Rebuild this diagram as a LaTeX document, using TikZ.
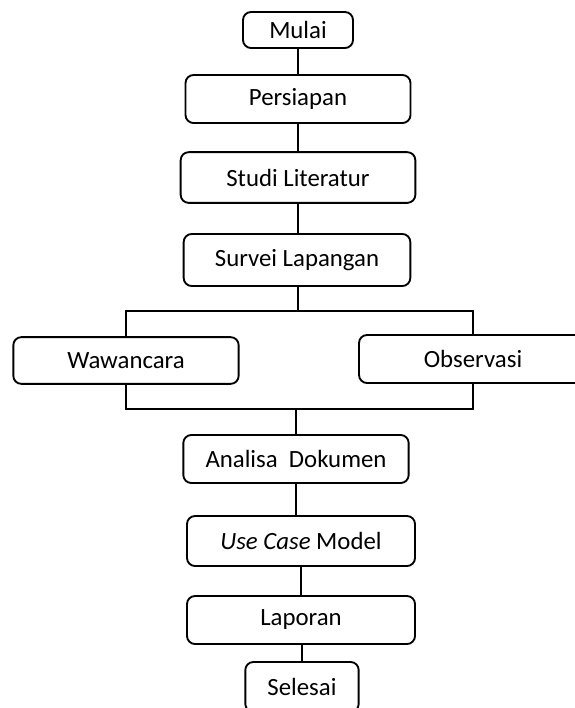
\documentclass[tikz,border=0pt]{standalone}
\usepackage{fontspec}
\setmainfont{Carlito}
\usepackage{tikz}

\tikzset{
  kotak/.style={draw, rounded corners=6pt, line width=1.4pt, inner sep=0pt,
    font=\fontsize{18.6}{20}\selectfont},
  garis/.style={line width=1.4pt}
}

\begin{document}
\begin{tikzpicture}[x=0.75pt,y=-0.75pt]
        \pgfmathsetmacro\xa{298}
        \pgfmathsetmacro\xb{301}
        \pgfmathsetmacro\yc{311}
        \pgfmathsetmacro\yd{409}
        \useasboundingbox (0,0) rectangle (575,708);
        \clip (0,0) rectangle (575,708);
        \node[kotak, minimum width=82.5pt, minimum height=27pt] (mulai) at (\xa,30) {Mulai};
        \node[kotak, minimum width=168.75pt, minimum height=36pt] (persiapan) at (\xa,99) {Persiapan};
        \node[kotak, minimum width=176pt, minimum height=38pt] (studi) at (\xa,177.5) {Studi Literatur};
        \node[kotak, minimum width=170pt, minimum height=39pt] (survei) at (297,260) {Survei Lapangan};
        \node[kotak, minimum width=169pt, minimum height=35pt] (wawancara) at (126,360.5) {Wawancara};
        \node[kotak, minimum width=171pt, minimum height=36pt] (observasi) at (473,359) {Observasi};
        \node[kotak, minimum width=169pt, minimum height=36pt] (analisa) at (296,459) {Analisa~ Dokumen};
        \node[kotak, minimum width=171pt, minimum height=37.5pt] (usecase) at (\xb,541) {\textit{Use Case} Model};
        \node[kotak, minimum width=171pt, minimum height=36pt] (laporan) at (\xb,620) {Laporan};
        \node[kotak, minimum width=85pt, minimum height=37.5pt] (selesai) at (302,687) {Selesai};
        \coordinate (cabang) at (\xa,\yc);
        \coordinate (gabung) at (296,\yd);
        \draw[garis] (mulai) -- (persiapan);
        \draw[garis] (persiapan) -- (studi);
        \draw[garis] (studi) -- (studi |- survei.north);
        \draw[garis] (studi |- survei.south) -- (cabang);
        \draw[garis] (wawancara) |- (cabang) -| (observasi);
        \draw[garis] (wawancara) |- (gabung) -| (observasi);
        \draw[garis] (gabung) -- (analisa);
        \draw[garis] (analisa) -- (analisa |- usecase.north);
        \draw[garis] (usecase) -- (laporan);
        \draw[garis] (selesai |- laporan.south) -- (selesai);
\end{tikzpicture}
\end{document}
